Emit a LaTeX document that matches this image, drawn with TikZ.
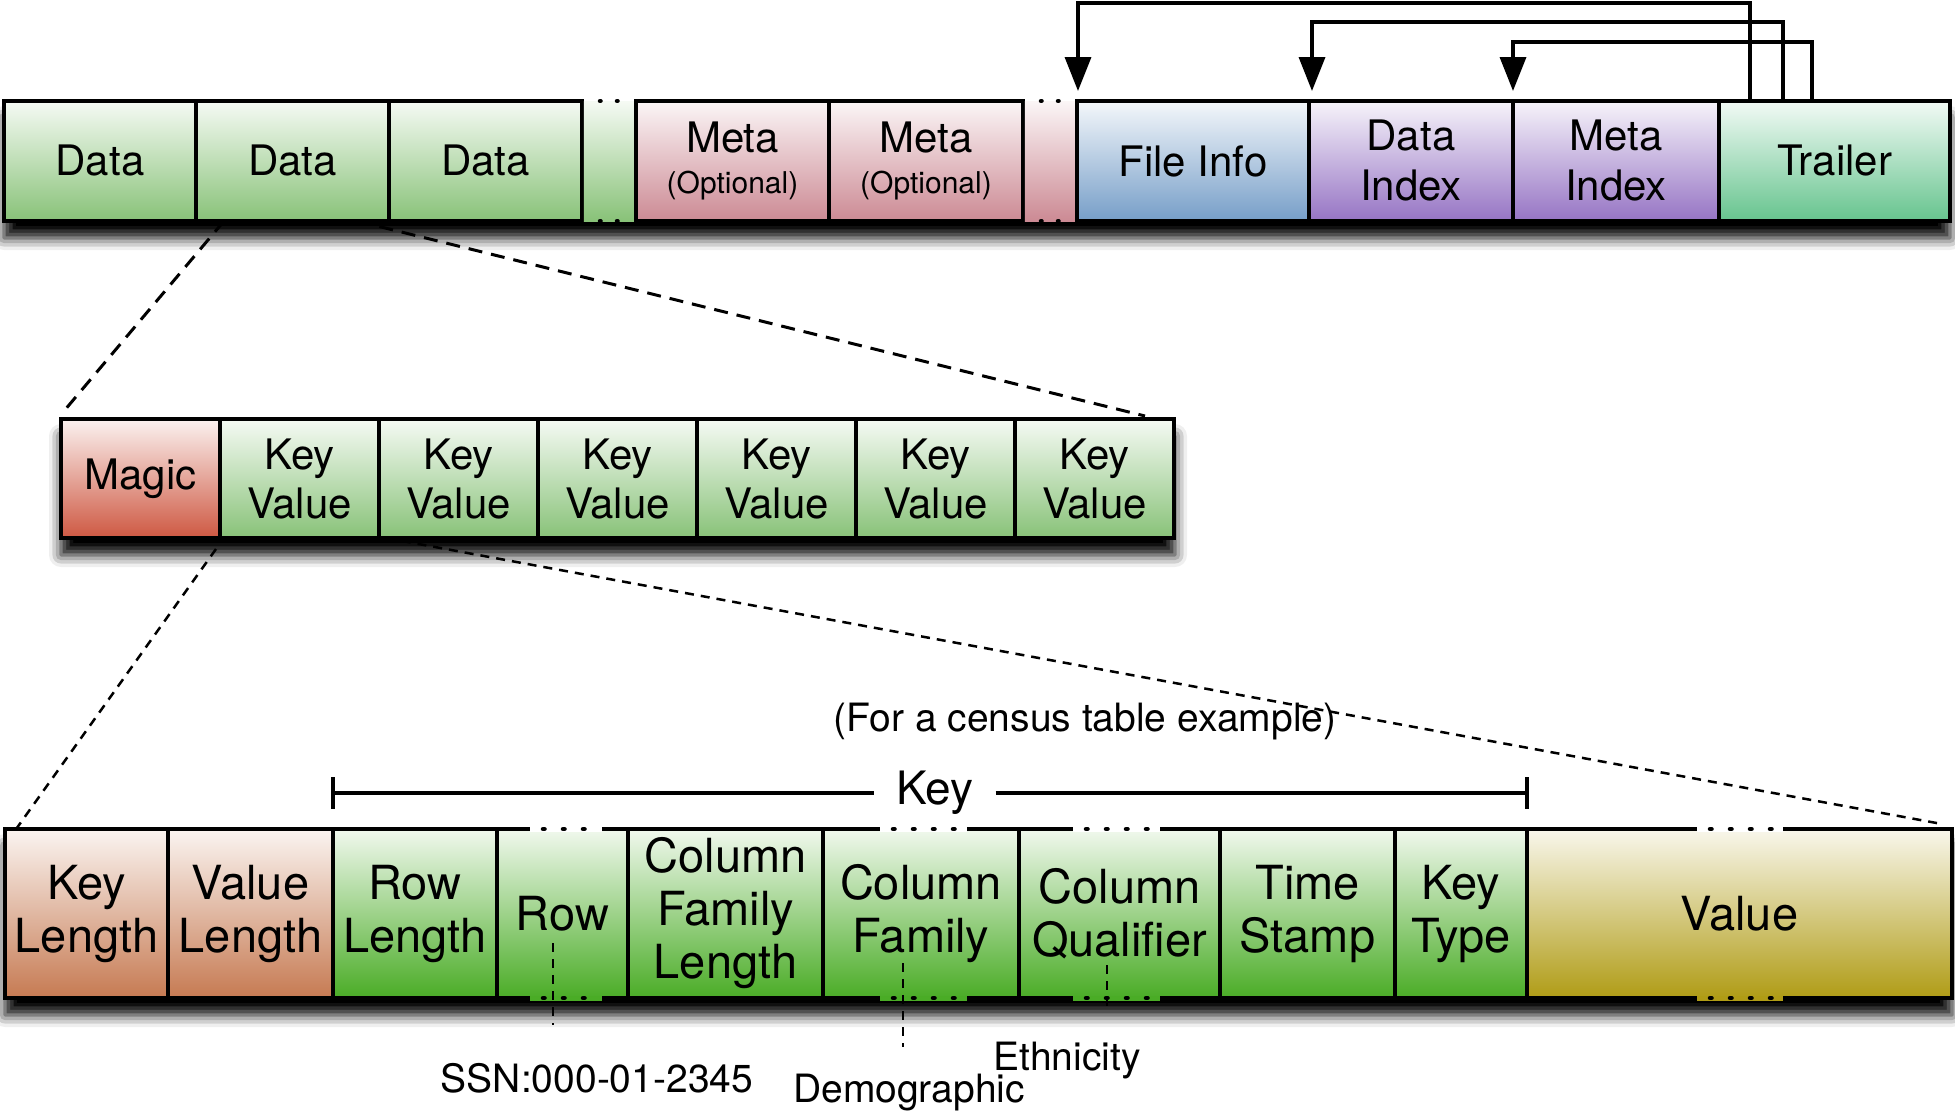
\documentclass[tikz,border=0pt]{standalone}
\usepackage{fontspec}
\setmainfont{TeX Gyre Heros}
\usetikzlibrary{arrows.meta,shadows.blur}

\definecolor{datagreen}{RGB}{136,194,120}
\definecolor{metapink}{RGB}{204,138,148}
\definecolor{infoblue}{RGB}{118,158,200}
\definecolor{indexpurple}{RGB}{150,116,196}
\definecolor{trailgreen}{RGB}{102,196,142}
\definecolor{magicred}{RGB}{206,88,66}
\definecolor{lentan}{RGB}{198,122,82}
\definecolor{keygreen}{RGB}{74,172,38}
\definecolor{valolive}{RGB}{176,156,22}

\begin{document}
\begin{tikzpicture}[x=1pt,y=-1pt,>={Triangle[length=34pt,width=26pt,fill=black]},
    cell/.style={draw=black,line width=3.5pt,anchor=north west,outer sep=0pt,inner sep=0pt,align=center},
    topcell/.style={cell,minimum height=120pt,font=\fontsize{42}{50}\selectfont},
    midcell/.style={cell,minimum height=119pt,font=\fontsize{42}{49}\selectfont},
    lowcell/.style={cell,minimum height=169pt,font=\fontsize{47}{53}\selectfont},
    gapcell/.style={cell,draw=none,minimum height=120pt},
    shade in/.style={top color=#1!8,bottom color=#1},
    rowshadow/.style={blur shadow={shadow xshift=0pt,shadow yshift=-17pt,shadow blur radius=12pt,shadow opacity=100}},
    topdots/.style={line width=4.5pt,line cap=round,dash pattern=on 0.5pt off 16.5pt},
    lowdots/.style={line width=4.5pt,line cap=round,dash pattern=on 1.5pt off 18.5pt},
    zoomline/.style={line width=3pt,dash pattern=on 14pt off 9pt},
    fineline/.style={line width=2.5pt,dash pattern=on 9pt off 7pt},
    pointer/.style={line width=2.5pt,dash pattern=on 9pt off 7pt},
    link/.style={->,line width=3.5pt,shorten >=10pt},
    note/.style={font=\fontsize{39}{44}\selectfont}]
\useasboundingbox (0,0) rectangle (1955,1119);

\path[rowshadow] (4,101) rectangle (1950,221);
\path[rowshadow] (61,419) rectangle (1175,538);
\path[rowshadow] (5,829) rectangle (1952,998);

\node[topcell,shade in=datagreen,minimum width=192] (d1) at (4,101) {Data};
\node[topcell,shade in=datagreen,minimum width=193] (d2) at (d1.north east) {Data};
\node[topcell,shade in=datagreen,minimum width=193] (d3) at (d2.north east) {Data};
\node[gapcell,shade in=datagreen,minimum width=50.5] (g1) at ([xshift=1.75pt]d3.north east) {};
\node[topcell,shade in=metapink,minimum width=193] (m1) at ([xshift=1.75pt]g1.north east) {Meta\\[-9pt]{\fontsize{30}{34}\selectfont(Optional)}};
\node[topcell,shade in=metapink,minimum width=194] (m2) at (m1.north east) {Meta\\[-9pt]{\fontsize{30}{34}\selectfont(Optional)}};
\node[gapcell,shade in=metapink,minimum width=50.5] (g2) at ([xshift=1.75pt]m2.north east) {};
\node[topcell,shade in=infoblue,minimum width=232] (fi) at ([xshift=1.75pt]g2.north east) {File Info};
\node[topcell,shade in=indexpurple,minimum width=204] (di) at (fi.north east) {Data\\Index};
\node[topcell,shade in=indexpurple,minimum width=206] (mi) at (di.north east) {Meta\\Index};
\node[topcell,shade in=trailgreen,minimum width=231] (tr) at (mi.north east) {Trailer};

\foreach \a in {600,1041}{
  \draw[topdots] (\a,101) -- (\a+20,101);
  \draw[topdots] (\a,221) -- (\a+20,221);
}

\draw[link] ([xshift=31pt]tr.north west) -- ++(0,-98) -| ([xshift=1pt]fi.north west);
\draw[link] ([xshift=64pt]tr.north west) -- ++(0,-79) -| ([xshift=3pt]di.north west);
\draw[link] ([xshift=93pt]tr.north west) -- ++(0,-59) -| (mi.north west);

\node[midcell,shade in=magicred,minimum width=159] (magic) at (61,419) {Magic};
\foreach \i/\j in {1/magic,2/kv1,3/kv2,4/kv3,5/kv4,6/kv5}
  \node[midcell,shade in=datagreen,minimum width=159] (kv\i) at (\j.north east) {Key\\Value};

\draw[zoomline] ([xshift=28pt]d2.south west) -- ([xshift=3pt,yshift=8pt]magic.north west);
\draw[zoomline] ([xshift=-32pt]d2.south east) -- ([xshift=-29pt,yshift=3pt]kv6.north east);

\node[lowcell,shade in=lentan,minimum width=163] (kl) at (5,829) {Key\\Length};
\node[lowcell,shade in=lentan,minimum width=165] (vl) at (kl.north east) {Value\\Length};
\node[lowcell,shade in=keygreen,minimum width=164] (rl) at (vl.north east) {Row\\Length};
\node[lowcell,shade in=keygreen,minimum width=131] (rw) at (rl.north east) {Row};
\node[lowcell,shade in=keygreen,minimum width=195] (cfl) at (rw.north east) {Column\\Family\\Length};
\node[lowcell,shade in=keygreen,minimum width=196] (cf) at (cfl.north east) {Column\\Family};
\node[lowcell,shade in=keygreen,minimum width=201] (cq) at (cf.north east) {Column\\Qualifier};
\node[lowcell,shade in=keygreen,minimum width=175] (ts) at (cq.north east) {Time\\Stamp};
\node[lowcell,shade in=keygreen,minimum width=132] (kt) at (ts.north east) {Key\\Type};
\node[lowcell,shade in=valolive,minimum width=425] (val) at (kt.north east) {Value};

\foreach \a/\b/\c in {530/602/keygreen,880/967/keygreen,1073/1160/keygreen,1697/1783/valolive}{
  \draw[line width=5pt,white] (\a,829) -- (\b,829);
  \draw[line width=5pt,\c] (\a,998) -- (\b,998);
  \draw[lowdots] (\a+13,829) -- (\b,829);
  \draw[lowdots] (\a+13,998) -- (\b,998);
}

\draw[fineline] ([xshift=-4pt,yshift=-11pt]kv1.south west) -- ([xshift=9pt,yshift=-3pt]kl.north west);
\draw[fineline] ([xshift=7pt]kv2.south west) -- ([xshift=-10pt,yshift=5pt]val.north east);

\node[note] (census) at (1085,722) {(For a census table example)};

\coordinate (kleft) at ([yshift=36pt]rl.north west);
\coordinate (kright) at ([yshift=36pt]kt.north east);
\node[fill=white,inner xsep=22pt,inner ysep=6pt,font=\fontsize{46}{52}\selectfont] (keylbl) at (935,793) {Key};
\draw[line width=3.5pt] (kleft) -- (keylbl) (keylbl) -- (kright);
\draw[line width=3.5pt] ([yshift=16pt]kleft) -- ([yshift=-16pt]kleft);
\draw[line width=3.5pt] ([yshift=16pt]kright) -- ([yshift=-16pt]kright);

\node[note] (ssn) at (597,1078) {SSN:000-01-2345};
\node[note] (demo) at (909,1093) {Demographic};
\node[note] (eth) at (1067,1061) {Ethnicity};

\draw[pointer] ([xshift=-9.5pt,yshift=55pt]rw.south) -- ([xshift=-9.5pt,yshift=-27pt]rw.south);
\draw[pointer] ([xshift=-18pt,yshift=35pt]cf.south) -- ([xshift=-18pt,yshift=-49pt]cf.south);
\draw[pointer] ([xshift=-12.5pt,yshift=33pt]cq.south) -- ([xshift=-12.5pt,yshift=-12pt]cq.south);
\end{tikzpicture}
\end{document}
